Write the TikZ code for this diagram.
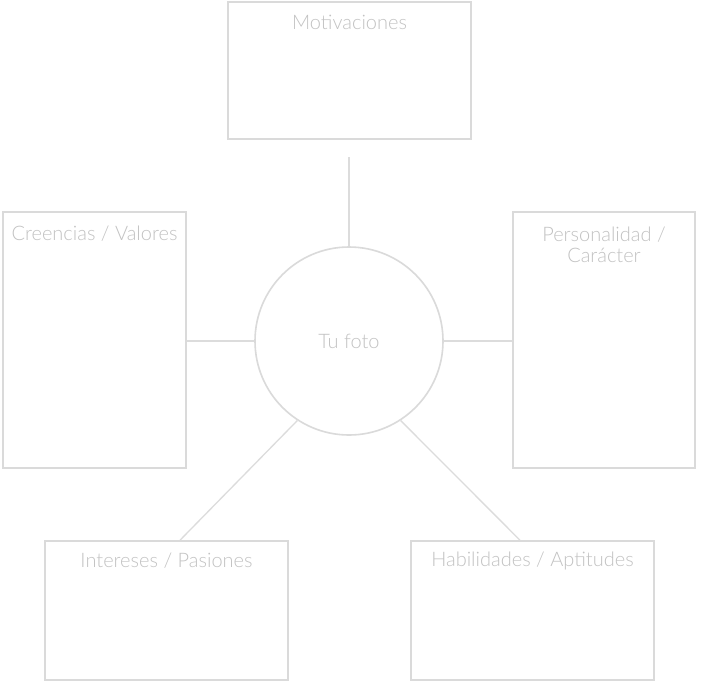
\documentclass[tikz,border=0pt]{standalone}
\usepackage{fontspec}
\setmainfont{Lato Light}
\usetikzlibrary{calc}
\definecolor{boxline}{HTML}{DADADA}
\definecolor{conline}{HTML}{DCDCDC}
\definecolor{txtgray}{HTML}{C2C2C2}
\begin{document}
\begin{tikzpicture}[x=1pt,y=-1pt,
  card/.style={draw=boxline, line width=1.6pt, fill=white, rectangle, inner sep=0pt},
  photo/.style={draw=boxline, line width=1.6pt, fill=white, circle, inner sep=0pt, minimum size=188pt,
    font=\fontsize{20}{23}\selectfont, text=txtgray},
  title/.style={anchor=center, text=txtgray, font=\fontsize{20}{21}\selectfont, inner sep=0pt, align=center},
  link/.style={draw=conline, line width=1.3pt}]
\useasboundingbox (0,0) rectangle (703,691);
\fill[white] (0,0) rectangle (703,691);
\node[photo] (foto) at (349,341) {Tu foto};
\node[card, minimum width=243pt, minimum height=137pt] (mot) at (349.5,70.5) {};
\node[card, minimum width=183pt, minimum height=256pt] (cre) at (94.5,340) {};
\node[card, minimum width=182pt, minimum height=256pt] (per) at (604,340) {};
\node[card, minimum width=243pt, minimum height=139pt] (int) at (166.5,610.5) {};
\node[card, minimum width=243pt, minimum height=139pt] (hab) at (532.5,610.5) {};
\coordinate (topend) at (349,157);
\coordinate (intend) at ($(int.north)+(13.5,0)$);
\coordinate (habend) at ($(hab.north)+(-12.5,0)$);
\draw[link] (topend) -- (foto.north);
\draw[link] (cre.east |- foto.west) -- (foto.west);
\draw[link] (foto.east) -- (per.west |- foto.east);
\draw[link] (foto.237) -- (intend);
\draw[link] (foto.303) -- (habend);
\node[title] (tmot) at (349.5,22) {Motivaciones};
\node[title] (tcre) at (94.5,234) {Creencias / Valores};
\node[title] (tper) at (604,244.5) {Personalidad /\\Carácter};
\node[title] (tint) at (166.5,561) {Intereses / Pasiones};
\node[title] (thab) at (532.5,561) {Habilidades / Aptitudes};
\end{tikzpicture}
\end{document}
